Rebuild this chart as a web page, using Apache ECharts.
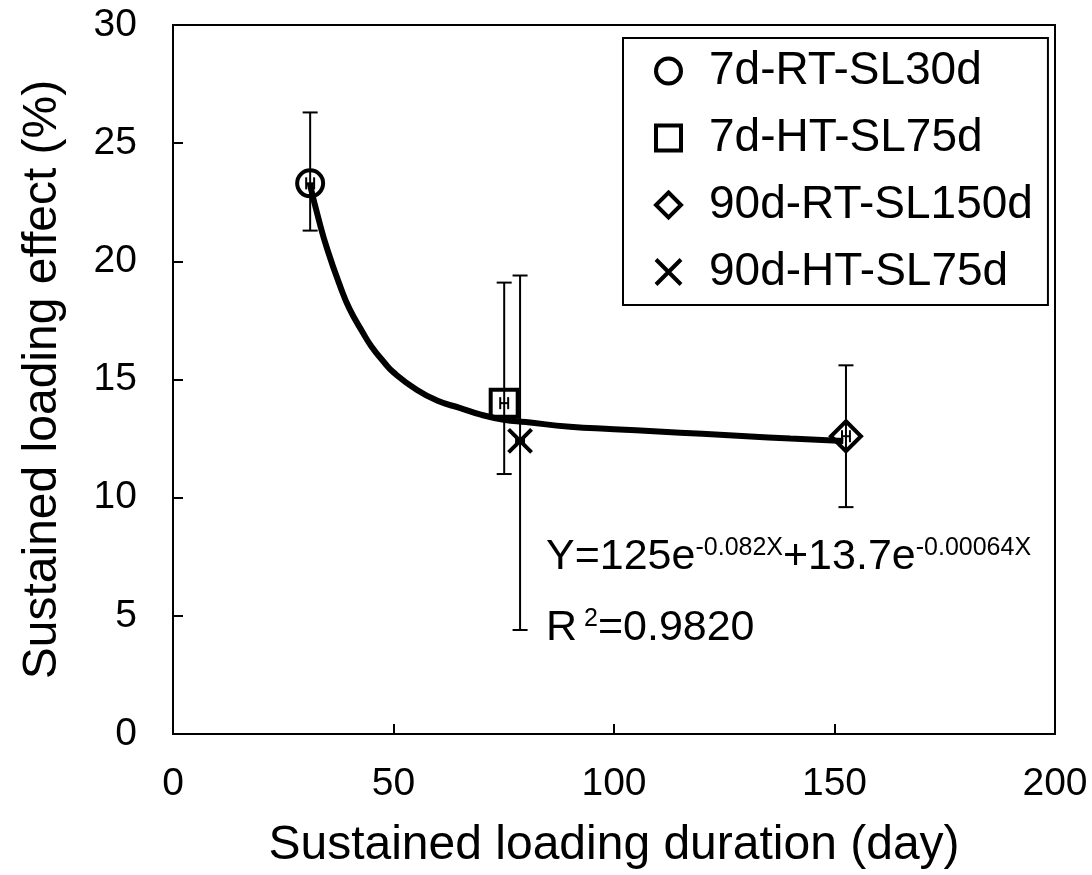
<!DOCTYPE html>
<html><head><meta charset="utf-8">
<script src="https://cdn.jsdelivr.net/npm/echarts@6/dist/echarts.min.js"></script>
<style>html,body{margin:0;padding:0;background:#fff}#c{width:1092px;height:875px}</style>
</head><body><div id="c"></div>
<script>
// ---- data ----
const seriesNames = ['7d-RT-SL30d', '7d-HT-SL75d', '90d-RT-SL150d', '90d-HT-SL75d'];
const duration   = [31.1, 75.1, 152.6, 78.7];     // day
const effect     = [23.3, 14.0, 12.6, 12.4];      // %
const errLow     = [21.3, 11.0, 9.6, 4.4];
const errHigh    = [26.3, 19.1, 15.6, 19.4];
const durErr     = [0.9, 0.9, 0.9, 0.9];
const fitX = [31, 33, 35, 38, 40, 43, 45, 48, 50, 55, 60, 65, 70, 75, 80, 90, 100, 110, 120, 130, 140, 152];
const fitY = [23.3, 21.8, 20.5, 18.9, 18.0, 17.0, 16.4, 15.7, 15.3, 14.6, 14.1, 13.8, 13.5, 13.3, 13.2, 13.0, 12.9, 12.8, 12.7, 12.6, 12.5, 12.4];
const xRange = [0, 200, 50];
const yRange = [0, 30, 5];
const xName = 'Sustained loading duration (day)';
const yName = 'Sustained loading effect (%)';
const eqLine1 = ['Y=125e', '-0.082X', '+13.7e', '-0.00064X'];
const eqLine2 = ['R', '2', '=0.9820'];

// ---- styles ----
const FONT = '"Liberation Sans", Arial, sans-serif';
const symbols = ['circle', 'rect', 'diamond', 'path://M0,0L10,10M10,0L0,10'];
const symbolSizes = [26, 27, 30, 23];

const chart = echarts.init(document.getElementById('c'), null, {renderer: 'canvas'});

const scatterSeries = seriesNames.map((name, i) => ({
  name: name,
  type: 'scatter',
  z: 4,
  symbol: symbols[i],
  symbolSize: symbolSizes[i],
  data: [[duration[i], effect[i]]],
  itemStyle: {color: 'rgba(0,0,0,0)', borderColor: '#000', borderWidth: 4, opacity: 1},
  emphasis: {disabled: true}
}));

const errData = duration.map((d, i) => [d, effect[i], errLow[i], errHigh[i], durErr[i]]);

const option = {
  animation: false,
  backgroundColor: '#fff',
  grid: {left: 173, top: 25, width: 882, height: 710, show: true, borderColor: '#000', borderWidth: 2},
  xAxis: {
    type: 'value', min: xRange[0], max: xRange[1], interval: xRange[2],
    name: xName, nameLocation: 'middle', nameGap: 88,
    nameTextStyle: {fontFamily: FONT, fontSize: 48, color: '#000'},
    axisLine: {show: true, lineStyle: {color: '#000', width: 2}},
    axisTick: {show: true, inside: true, length: 10, lineStyle: {color: '#000', width: 2}},
    axisLabel: {fontFamily: FONT, fontSize: 39, color: '#000', margin: 31},
    splitLine: {show: false}
  },
  yAxis: {
    type: 'value', min: yRange[0], max: yRange[1], interval: yRange[2],
    name: yName, nameLocation: 'middle', nameGap: 106,
    nameTextStyle: {fontFamily: FONT, fontSize: 48, color: '#000'},
    axisLine: {show: true, lineStyle: {color: '#000', width: 2}},
    axisTick: {show: true, inside: true, length: 10, lineStyle: {color: '#000', width: 2}},
    axisLabel: {fontFamily: FONT, fontSize: 39, color: '#000', margin: 36},
    splitLine: {show: false}
  },
  legend: {
    data: seriesNames,
    orient: 'vertical',
    left: 623, top: 38,
    padding: [10, 15, 10, 31],
    itemWidth: 25, itemHeight: 25,
    itemGap: 21,
    backgroundColor: '#fff',
    borderColor: '#000', borderWidth: 2,
    itemStyle: {color: 'rgba(0,0,0,0)', borderColor: '#000', borderWidth: 4, opacity: 1},
    textStyle: {fontFamily: FONT, fontSize: 46, color: '#000', lineHeight: 44, width: 318, padding: [0, 0, 0, 23]},
    selectedMode: false
  },
  series: [
    {
      type: 'line', z: 2, data: fitX.map((x, i) => [x, fitY[i]]),
      smooth: true, symbol: 'none', silent: true,
      lineStyle: {color: '#000', width: 6}
    },
    ...scatterSeries,
    {
      type: 'custom', z: 5, silent: true,
      data: errData,
      encode: {x: 0, y: 1},
      renderItem: function (params, api) {
        const x = api.value(0), y = api.value(1), lo = api.value(2), hi = api.value(3), dx = api.value(4);
        const pLo = api.coord([x, lo]), pHi = api.coord([x, hi]);
        const pL = api.coord([x - dx, y]), pR = api.coord([x + dx, y]);
        const st = {stroke: '#000', lineWidth: 2};
        const cw = 7.5, ch = 6;
        return {
          type: 'group',
          children: [
            {type: 'line', shape: {x1: pLo[0], y1: pLo[1], x2: pHi[0], y2: pHi[1]}, style: st},
            {type: 'line', shape: {x1: pLo[0] - cw, y1: pLo[1], x2: pLo[0] + cw, y2: pLo[1]}, style: st},
            {type: 'line', shape: {x1: pHi[0] - cw, y1: pHi[1], x2: pHi[0] + cw, y2: pHi[1]}, style: st},
            {type: 'line', shape: {x1: pL[0], y1: pL[1], x2: pR[0], y2: pR[1]}, style: st},
            {type: 'line', shape: {x1: pL[0], y1: pL[1] - ch, x2: pL[0], y2: pL[1] + ch}, style: st},
            {type: 'line', shape: {x1: pR[0], y1: pR[1] - ch, x2: pR[0], y2: pR[1] + ch}, style: st}
          ]
        };
      }
    }
  ],
  graphic: [
    {
      type: 'text', left: 546, top: 533, z: 10,
      style: {
        text: '{m|' + eqLine1[0] + '}{s|' + eqLine1[1] + '}{m|' + eqLine1[2] + '}{s|' + eqLine1[3] + '}',
        rich: {
          m: {fontFamily: FONT, fontSize: 43, lineHeight: 46, fill: '#000', verticalAlign: 'bottom'},
          s: {fontFamily: FONT, fontSize: 25, lineHeight: 46, fill: '#000', verticalAlign: 'top', padding: [3, 0, 0, 0]}
        }
      }
    },
    {
      type: 'text', left: 546, top: 604, z: 10,
      style: {
        text: '{m|' + eqLine2[0] + '}{s| ' + eqLine2[1] + '}{m|' + eqLine2[2] + '}',
        rich: {
          m: {fontFamily: FONT, fontSize: 43, lineHeight: 46, fill: '#000', verticalAlign: 'bottom'},
          s: {fontFamily: FONT, fontSize: 25, lineHeight: 46, fill: '#000', verticalAlign: 'top', padding: [3, 0, 0, 0]}
        }
      }
    }
  ]
};
chart.setOption(option);
</script>
</body></html>
